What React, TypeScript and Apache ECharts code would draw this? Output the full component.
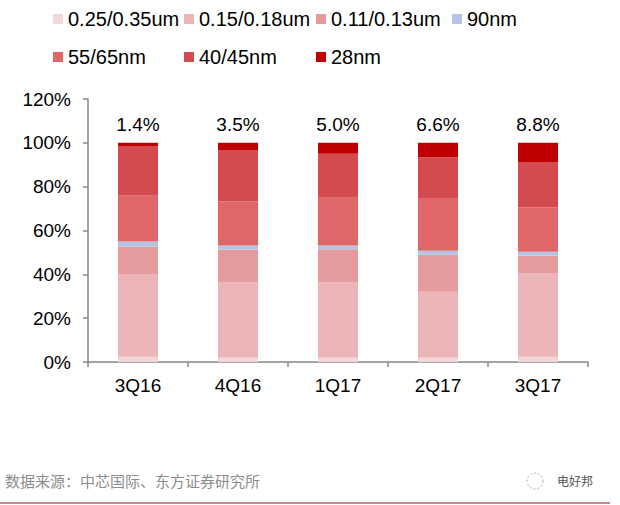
import React, { useEffect, useRef } from "react";
import * as echarts from "echarts";

const categories = ["3Q16", "4Q16", "1Q17", "2Q17", "3Q17"];
const seriesNames = ["0.25/0.35um", "0.15/0.18um", "0.11/0.13um", "90nm", "55/65nm", "40/45nm", "28nm"];
const s025 = [2.4, 2.0, 2.0, 2.0, 2.4];
const s015 = [37.8, 34.4, 34.3, 30.0, 38.2];
const s011 = [12.5, 14.8, 15.2, 16.9, 7.9];
const s90 = [2.3, 2.0, 1.7, 1.9, 1.8];
const s55 = [20.9, 20.1, 21.8, 23.7, 20.3];
const s40 = [22.7, 23.2, 20.0, 18.9, 20.6];
const s28 = [1.4, 3.5, 5.0, 6.6, 8.8];
const seriesData = [s025, s015, s011, s90, s55, s40, s28];
const colors = ["#f2d6d8", "#ecb5b7", "#e59b9d", "#b4c4e4", "#df6767", "#d44b4f", "#c00000"];
const legendPos = [
  [53, 9], [184, 9], [316, 9], [452, 9],
  [53, 47], [184, 47], [316, 47],
];

const FONT = "'Liberation Sans', Arial, sans-serif";

export default function App() {
  const ref = useRef<HTMLDivElement>(null);
  useEffect(() => {
    const chart = echarts.init(ref.current!, null, { renderer: "svg" });
    chart.setOption({
      animation: false,
      backgroundColor: "#ffffff",
      textStyle: { fontFamily: FONT },
      legend: seriesNames.map((n, i) => ({
        data: [n],
        left: legendPos[i][0],
        top: legendPos[i][1],
        padding: 0,
        itemWidth: 10,
        itemHeight: 10,
        icon: "rect",
        textStyle: { fontSize: 20, color: "#000", fontFamily: FONT },
      })),
      grid: { left: 88, right: 32, top: 99, bottom: 143 },
      xAxis: {
        type: "category",
        data: categories,
        axisLine: { lineStyle: { color: "#888", width: 1.5 } },
        axisTick: { show: true, length: 5, lineStyle: { color: "#888", width: 1.5 } },
        axisLabel: { fontSize: 19, color: "#000", margin: 14, fontFamily: FONT },
      },
      yAxis: {
        type: "value",
        min: 0,
        max: 120,
        interval: 20,
        axisLine: { show: true, lineStyle: { color: "#888", width: 1.5 } },
        axisTick: { show: true, length: 5, lineStyle: { color: "#888", width: 1.5 } },
        splitLine: { show: false },
        axisLabel: { fontSize: 19, color: "#000", margin: 17, formatter: "{value}%", fontFamily: FONT },
      },
      series: seriesNames.map((n, i) => ({
        name: n,
        type: "bar",
        stack: "total",
        barWidth: "40%",
        data: seriesData[i],
        itemStyle: { color: colors[i] },
        label:
          i === seriesNames.length - 1
            ? {
                show: true,
                position: "top",
                distance: 9,
                fontSize: 19,
                color: "#000",
                fontFamily: FONT,
                formatter: (p: any) => Number(p.value).toFixed(1) + "%",
              }
            : { show: false },
      })),
      graphic: [
        {
          type: "text",
          left: 5,
          top: 473,
          style: {
            text: "数据来源：中芯国际、东方证券研究所",
            fontSize: 15,
            fill: "#8c8c8c",
            fontFamily: "'Noto Sans CJK SC', sans-serif",
          },
        },
        {
          type: "circle",
          shape: { cx: 535, cy: 481, r: 8 },
          style: { fill: "none", stroke: "#aaa", lineWidth: 1, lineDash: [2, 2] },
        },
        {
          type: "text",
          left: 557,
          top: 474,
          style: {
            text: "电好邦",
            fontSize: 12,
            fill: "#555",
            fontFamily: "'Noto Sans CJK SC', sans-serif",
          },
        },
        {
          type: "line",
          shape: { x1: 0, y1: 503, x2: 610, y2: 503 },
          style: { stroke: "#c48a8e", lineWidth: 2 },
        },
      ],
    });
    return () => chart.dispose();
  }, []);
  return (
    <div
      ref={ref}
      style={{ position: "fixed", left: 0, top: 0, width: 620, height: 505 }}
    />
  );
}
